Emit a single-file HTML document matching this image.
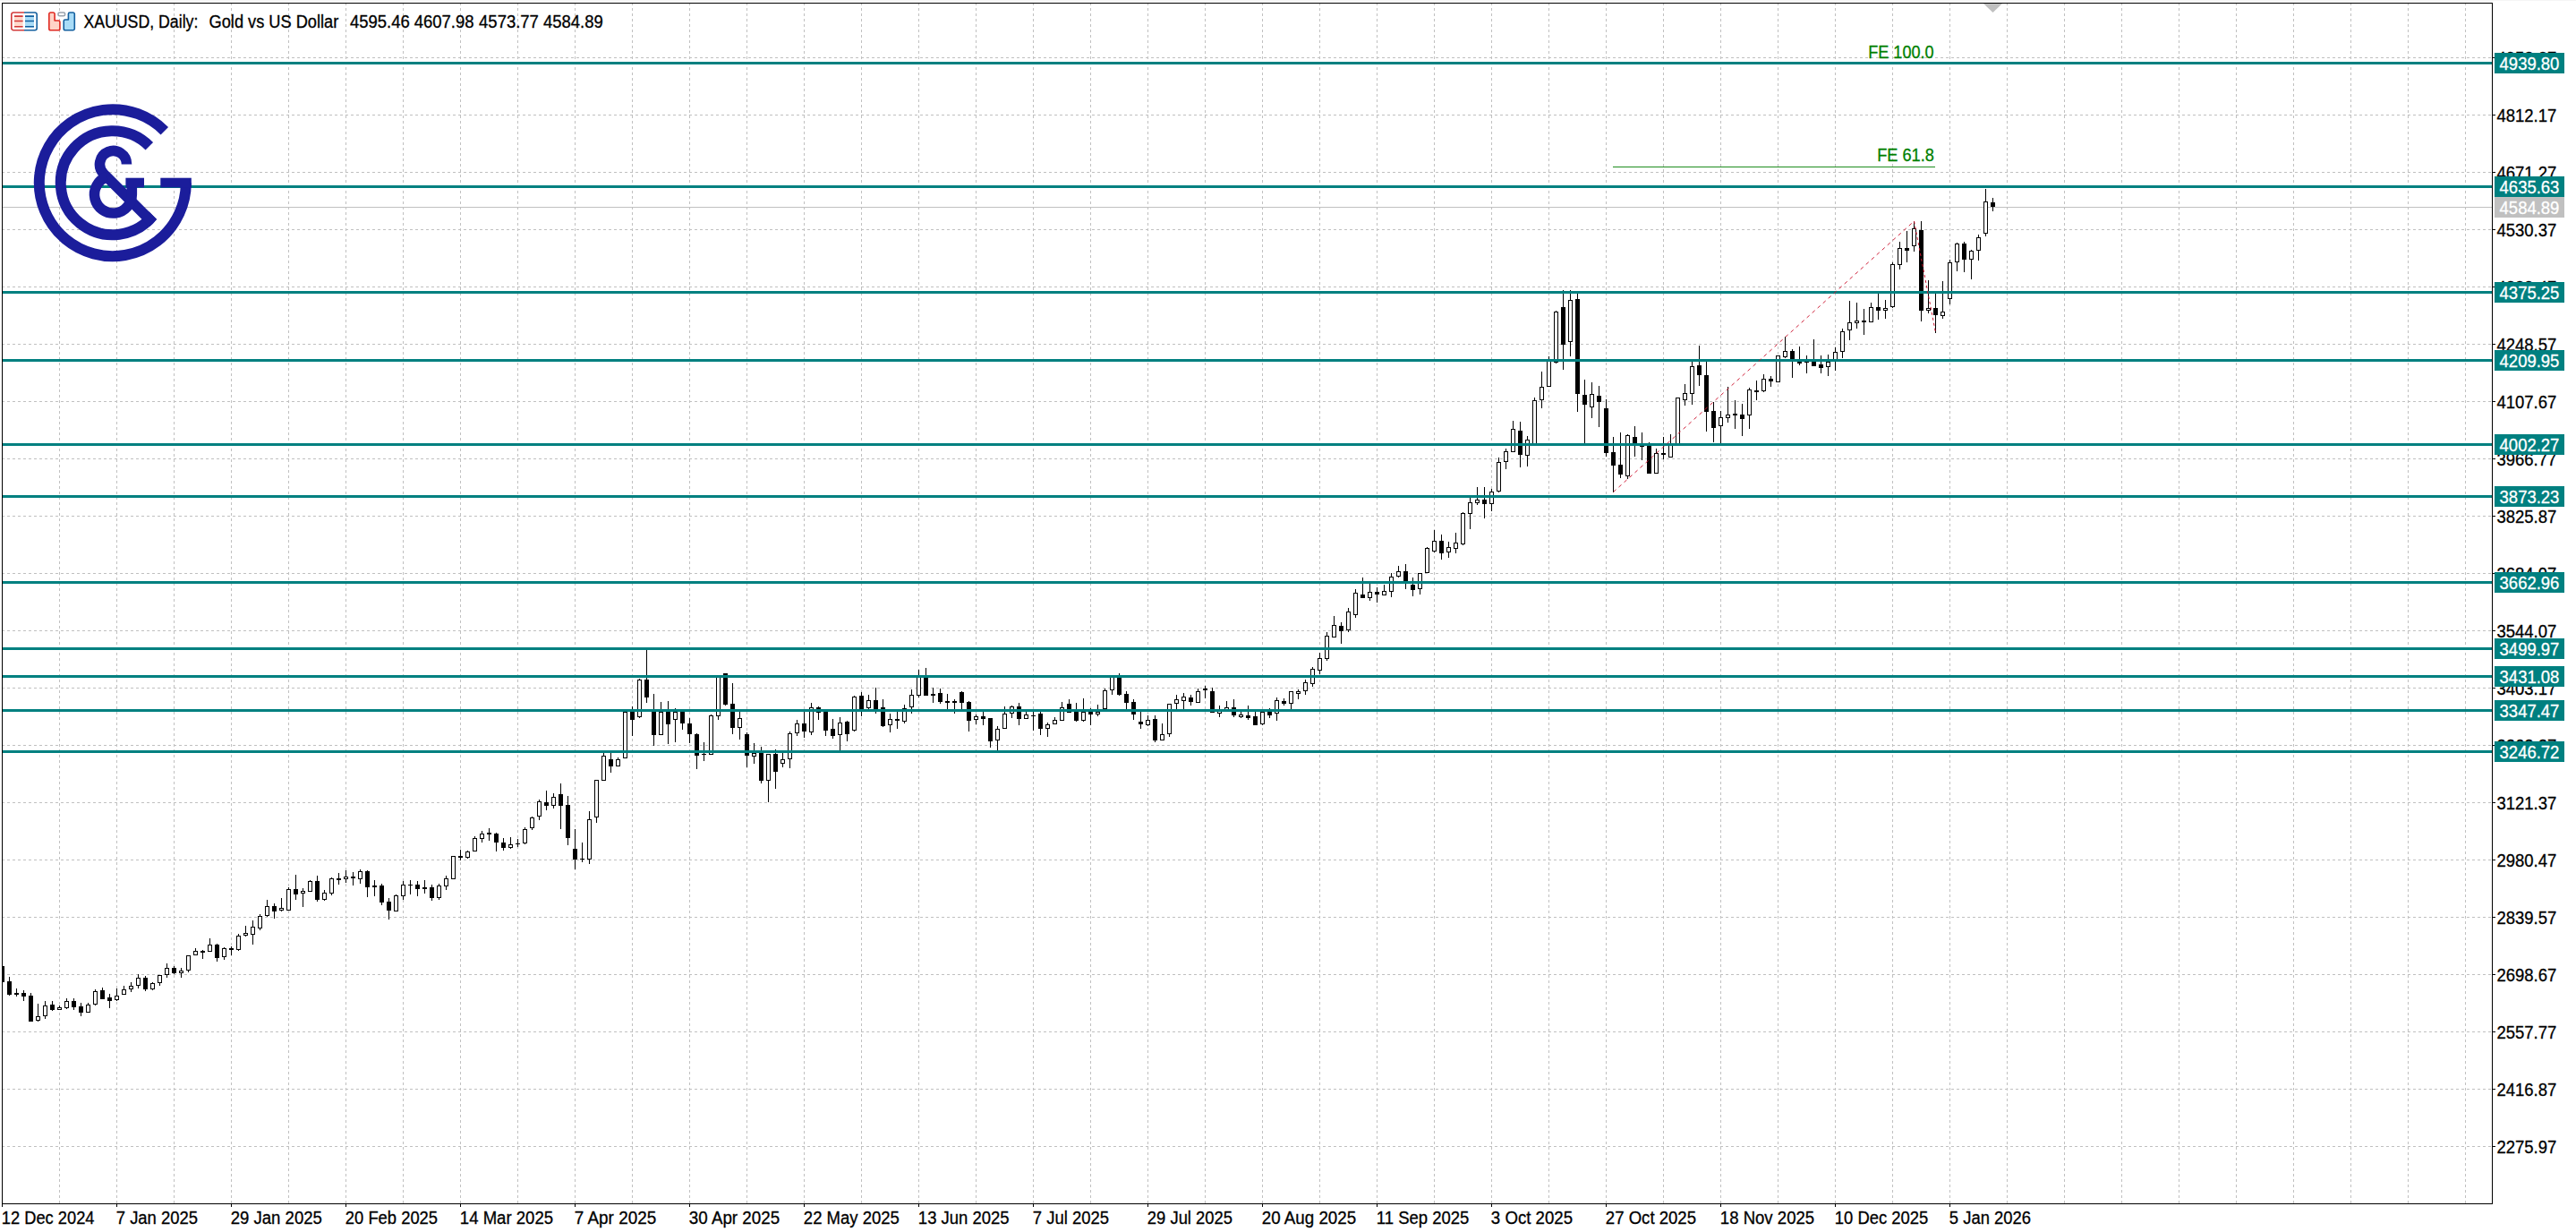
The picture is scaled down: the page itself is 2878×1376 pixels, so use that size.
<!DOCTYPE html>
<html lang="en"><head><meta charset="utf-8"><title>XAUUSD, Daily</title>
<style>html,body{margin:0;padding:0;background:#fff}body{width:2878px;height:1376px;overflow:hidden}svg{display:block}text{font-family:"Liberation Sans",sans-serif;font-size:19.4px;fill:#000;stroke:#000;stroke-width:.3px}.g{stroke:#c0c0c0;stroke-width:1;stroke-dasharray:3 3;shape-rendering:crispEdges;fill:none}.k{shape-rendering:crispEdges}</style></head><body>
<svg width="2878" height="1376" viewBox="0 0 2878 1376">
<rect width="2878" height="1376" fill="#fff"/>
<rect x="0" y="0" width="2878" height="1" fill="#f5f5f5"/>
<g class="g">
<line x1="66.5" y1="3" x2="66.5" y2="1344"/>
<line x1="130.5" y1="3" x2="130.5" y2="1344"/>
<line x1="194.5" y1="3" x2="194.5" y2="1344"/>
<line x1="258.5" y1="3" x2="258.5" y2="1344"/>
<line x1="322.5" y1="3" x2="322.5" y2="1344"/>
<line x1="386.5" y1="3" x2="386.5" y2="1344"/>
<line x1="450.5" y1="3" x2="450.5" y2="1344"/>
<line x1="514.5" y1="3" x2="514.5" y2="1344"/>
<line x1="578.5" y1="3" x2="578.5" y2="1344"/>
<line x1="642.5" y1="3" x2="642.5" y2="1344"/>
<line x1="706.5" y1="3" x2="706.5" y2="1344"/>
<line x1="770.5" y1="3" x2="770.5" y2="1344"/>
<line x1="834.5" y1="3" x2="834.5" y2="1344"/>
<line x1="898.5" y1="3" x2="898.5" y2="1344"/>
<line x1="962.5" y1="3" x2="962.5" y2="1344"/>
<line x1="1026.5" y1="3" x2="1026.5" y2="1344"/>
<line x1="1090.5" y1="3" x2="1090.5" y2="1344"/>
<line x1="1154.5" y1="3" x2="1154.5" y2="1344"/>
<line x1="1218.5" y1="3" x2="1218.5" y2="1344"/>
<line x1="1282.5" y1="3" x2="1282.5" y2="1344"/>
<line x1="1346.5" y1="3" x2="1346.5" y2="1344"/>
<line x1="1410.5" y1="3" x2="1410.5" y2="1344"/>
<line x1="1474.5" y1="3" x2="1474.5" y2="1344"/>
<line x1="1538.5" y1="3" x2="1538.5" y2="1344"/>
<line x1="1602.5" y1="3" x2="1602.5" y2="1344"/>
<line x1="1666.5" y1="3" x2="1666.5" y2="1344"/>
<line x1="1730.5" y1="3" x2="1730.5" y2="1344"/>
<line x1="1794.5" y1="3" x2="1794.5" y2="1344"/>
<line x1="1858.5" y1="3" x2="1858.5" y2="1344"/>
<line x1="1922.5" y1="3" x2="1922.5" y2="1344"/>
<line x1="1986.5" y1="3" x2="1986.5" y2="1344"/>
<line x1="2050.5" y1="3" x2="2050.5" y2="1344"/>
<line x1="2114.5" y1="3" x2="2114.5" y2="1344"/>
<line x1="2178.5" y1="3" x2="2178.5" y2="1344"/>
<line x1="2242.5" y1="3" x2="2242.5" y2="1344"/>
<line x1="2306.5" y1="3" x2="2306.5" y2="1344"/>
<line x1="2370.5" y1="3" x2="2370.5" y2="1344"/>
<line x1="2434.5" y1="3" x2="2434.5" y2="1344"/>
<line x1="2498.5" y1="3" x2="2498.5" y2="1344"/>
<line x1="2562.5" y1="3" x2="2562.5" y2="1344"/>
<line x1="2626.5" y1="3" x2="2626.5" y2="1344"/>
<line x1="2690.5" y1="3" x2="2690.5" y2="1344"/>
<line x1="2754.5" y1="3" x2="2754.5" y2="1344"/>
<line x1="2" y1="64.5" x2="2784" y2="64.5"/>
<line x1="2" y1="128.5" x2="2784" y2="128.5"/>
<line x1="2" y1="192.5" x2="2784" y2="192.5"/>
<line x1="2" y1="256.5" x2="2784" y2="256.5"/>
<line x1="2" y1="320.5" x2="2784" y2="320.5"/>
<line x1="2" y1="384.5" x2="2784" y2="384.5"/>
<line x1="2" y1="448.5" x2="2784" y2="448.5"/>
<line x1="2" y1="512.5" x2="2784" y2="512.5"/>
<line x1="2" y1="576.5" x2="2784" y2="576.5"/>
<line x1="2" y1="640.5" x2="2784" y2="640.5"/>
<line x1="2" y1="704.5" x2="2784" y2="704.5"/>
<line x1="2" y1="768.5" x2="2784" y2="768.5"/>
<line x1="2" y1="832.5" x2="2784" y2="832.5"/>
<line x1="2" y1="896.5" x2="2784" y2="896.5"/>
<line x1="2" y1="960.5" x2="2784" y2="960.5"/>
<line x1="2" y1="1024.5" x2="2784" y2="1024.5"/>
<line x1="2" y1="1088.5" x2="2784" y2="1088.5"/>
<line x1="2" y1="1152.5" x2="2784" y2="1152.5"/>
<line x1="2" y1="1216.5" x2="2784" y2="1216.5"/>
<line x1="2" y1="1280.5" x2="2784" y2="1280.5"/>
</g>
<rect class="k" x="3" y="231" width="2781" height="1" fill="#c0c0c0"/>
<g class="k">
<path fill="#000" d="M2 1079h1v18h-1zM10 1091h1v21h-1zM18 1104h1v9h-1zM26 1106h1v12h-1zM34 1109h1v32h-1zM42 1121h1v20h-1zM50 1118h1v20h-1zM58 1118h1v11h-1zM66 1123h1v5h-1zM74 1115h1v12h-1zM82 1115h1v13h-1zM90 1120h1v15h-1zM98 1120h1v11h-1zM106 1105h1v18h-1zM114 1103h1v13h-1zM122 1110h1v16h-1zM130 1104h1v14h-1zM138 1101h1v10h-1zM146 1097h1v11h-1zM154 1088h1v16h-1zM162 1090h1v17h-1zM170 1097h1v9h-1zM178 1089h1v12h-1zM186 1076h1v16h-1zM194 1079h1v9h-1zM202 1081h1v11h-1zM210 1067h1v19h-1zM218 1059h1v8h-1zM226 1061h1v10h-1zM234 1048h1v15h-1zM242 1054h1v20h-1zM250 1058h1v14h-1zM258 1057h1v10h-1zM266 1043h1v19h-1zM274 1034h1v12h-1zM282 1028h1v27h-1zM290 1021h1v18h-1zM298 1005h1v19h-1zM306 1009h1v17h-1zM314 1003h1v15h-1zM322 991h1v26h-1zM330 977h1v28h-1zM338 992h1v21h-1zM346 983h1v13h-1zM354 978h1v29h-1zM362 994h1v12h-1zM370 980h1v20h-1zM378 975h1v13h-1zM386 972h1v14h-1zM394 974h1v15h-1zM402 971h1v16h-1zM410 972h1v30h-1zM418 983h1v18h-1zM426 987h1v24h-1zM434 1003h1v24h-1zM442 999h1v19h-1zM450 984h1v21h-1zM458 983h1v16h-1zM466 984h1v17h-1zM474 983h1v15h-1zM482 988h1v18h-1zM490 987h1v18h-1zM498 978h1v16h-1zM506 956h1v26h-1zM514 949h1v12h-1zM522 950h1v9h-1zM530 934h1v17h-1zM538 928h1v13h-1zM546 925h1v14h-1zM554 930h1v21h-1zM562 936h1v14h-1zM570 935h1v13h-1zM578 937h1v9h-1zM586 924h1v19h-1zM594 912h1v15h-1zM602 893h1v23h-1zM610 883h1v22h-1zM618 886h1v17h-1zM626 875h1v51h-1zM634 889h1v55h-1zM642 926h1v45h-1zM650 941h1v22h-1zM658 906h1v59h-1zM666 871h1v48h-1zM674 841h1v31h-1zM682 841h1v22h-1zM690 846h1v10h-1zM698 795h1v52h-1zM706 789h1v33h-1zM714 758h1v44h-1zM722 725h1v60h-1zM730 775h1v58h-1zM738 784h1v37h-1zM746 783h1v48h-1zM754 791h1v38h-1zM762 795h1v20h-1zM770 802h1v28h-1zM778 819h1v40h-1zM786 829h1v21h-1zM794 798h1v45h-1zM802 756h1v48h-1zM810 752h1v36h-1zM818 763h1v57h-1zM826 795h1v31h-1zM834 818h1v39h-1zM842 830h1v23h-1zM850 834h1v41h-1zM858 842h1v54h-1zM866 837h1v44h-1zM874 841h1v16h-1zM882 817h1v41h-1zM890 804h1v18h-1zM898 795h1v29h-1zM906 785h1v36h-1zM914 789h1v15h-1zM922 793h1v29h-1zM930 803h1v22h-1zM938 801h1v37h-1zM946 805h1v23h-1zM954 777h1v40h-1zM962 773h1v27h-1zM970 776h1v16h-1zM978 768h1v29h-1zM986 781h1v31h-1zM994 797h1v21h-1zM1002 795h1v19h-1zM1010 787h1v21h-1zM1018 770h1v27h-1zM1026 748h1v31h-1zM1034 746h1v31h-1zM1042 768h1v17h-1zM1050 769h1v17h-1zM1058 775h1v17h-1zM1066 781h1v16h-1zM1074 772h1v20h-1zM1082 783h1v34h-1zM1090 798h1v11h-1zM1098 795h1v15h-1zM1106 802h1v33h-1zM1114 811h1v27h-1zM1122 789h1v25h-1zM1130 788h1v14h-1zM1138 785h1v25h-1zM1146 795h1v8h-1zM1154 794h1v22h-1zM1162 795h1v26h-1zM1170 807h1v16h-1zM1178 801h1v8h-1zM1186 784h1v21h-1zM1194 781h1v15h-1zM1202 785h1v21h-1zM1210 780h1v26h-1zM1218 791h1v19h-1zM1226 787h1v13h-1zM1234 769h1v23h-1zM1242 756h1v20h-1zM1250 752h1v25h-1zM1258 772h1v20h-1zM1266 781h1v23h-1zM1274 795h1v19h-1zM1282 799h1v12h-1zM1290 799h1v30h-1zM1298 808h1v19h-1zM1306 786h1v37h-1zM1314 776h1v16h-1zM1322 774h1v18h-1zM1330 776h1v12h-1zM1338 769h1v16h-1zM1346 766h1v14h-1zM1354 768h1v28h-1zM1362 788h1v13h-1zM1370 783h1v10h-1zM1378 781h1v20h-1zM1386 795h1v7h-1zM1394 788h1v16h-1zM1402 795h1v15h-1zM1410 793h1v17h-1zM1418 791h1v11h-1zM1426 779h1v26h-1zM1434 780h1v8h-1zM1442 772h1v20h-1zM1450 770h1v11h-1zM1458 759h1v17h-1zM1466 745h1v22h-1zM1474 729h1v24h-1zM1482 706h1v32h-1zM1490 688h1v24h-1zM1498 695h1v24h-1zM1506 679h1v27h-1zM1514 658h1v32h-1zM1522 645h1v23h-1zM1530 651h1v20h-1zM1538 656h1v17h-1zM1546 653h1v12h-1zM1554 640h1v27h-1zM1562 632h1v13h-1zM1570 630h1v28h-1zM1578 645h1v21h-1zM1586 640h1v24h-1zM1594 611h1v29h-1zM1602 592h1v25h-1zM1610 597h1v28h-1zM1618 605h1v18h-1zM1626 595h1v23h-1zM1634 572h1v37h-1zM1642 556h1v35h-1zM1650 544h1v20h-1zM1658 544h1v35h-1zM1666 546h1v25h-1zM1674 511h1v39h-1zM1682 501h1v23h-1zM1690 470h1v35h-1zM1698 471h1v51h-1zM1706 487h1v34h-1zM1714 444h1v54h-1zM1722 415h1v41h-1zM1730 398h1v34h-1zM1738 347h1v59h-1zM1746 324h1v89h-1zM1754 324h1v74h-1zM1762 328h1v132h-1zM1770 424h1v71h-1zM1778 427h1v40h-1zM1786 431h1v46h-1zM1794 446h1v64h-1zM1802 488h1v62h-1zM1810 483h1v51h-1zM1818 485h1v50h-1zM1826 476h1v34h-1zM1834 483h1v31h-1zM1842 494h1v35h-1zM1850 501h1v28h-1zM1858 488h1v25h-1zM1866 485h1v26h-1zM1874 444h1v52h-1zM1882 429h1v24h-1zM1890 404h1v48h-1zM1898 386h1v45h-1zM1906 404h1v78h-1zM1914 449h1v45h-1zM1922 459h1v37h-1zM1930 432h1v40h-1zM1938 447h1v32h-1zM1946 451h1v36h-1zM1954 433h1v46h-1zM1962 425h1v22h-1zM1970 418h1v20h-1zM1978 420h1v12h-1zM1986 397h1v30h-1zM1994 376h1v24h-1zM2002 390h1v32h-1zM2010 387h1v21h-1zM2018 397h1v20h-1zM2026 379h1v30h-1zM2034 397h1v20h-1zM2042 396h1v24h-1zM2050 388h1v26h-1zM2058 367h1v33h-1zM2066 336h1v44h-1zM2074 338h1v29h-1zM2082 345h1v29h-1zM2090 338h1v22h-1zM2098 328h1v29h-1zM2106 335h1v21h-1zM2114 293h1v51h-1zM2122 270h1v31h-1zM2130 258h1v35h-1zM2138 247h1v34h-1zM2146 247h1v112h-1zM2154 313h1v37h-1zM2162 328h1v44h-1zM2170 314h1v42h-1zM2178 290h1v50h-1zM2186 271h1v32h-1zM2194 270h1v34h-1zM2202 279h1v33h-1zM2210 262h1v29h-1zM2218 211h1v53h-1zM2226 221h1v15h-1z"/>
<path fill="#000" d="M3 1079h2v18h-2zM8 1096h5v15h-5zM16 1109h5v2h-5zM24 1109h5v4h-5zM32 1112h5v29h-5zM40 1135h5v5h-5zM48 1123h5v12h-5zM56 1122h5v6h-5zM64 1125h5v3h-5zM72 1118h5v8h-5zM80 1118h5v7h-5zM88 1124h5v7h-5zM96 1122h5v9h-5zM104 1107h5v15h-5zM112 1106h5v10h-5zM120 1114h5v4h-5zM128 1112h5v5h-5zM136 1105h5v6h-5zM144 1101h5v4h-5zM152 1092h5v9h-5zM160 1092h5v13h-5zM168 1098h5v7h-5zM176 1089h5v9h-5zM184 1081h5v8h-5zM192 1081h5v6h-5zM200 1084h5v3h-5zM208 1067h5v17h-5zM216 1062h5v5h-5zM224 1062h5v2h-5zM232 1055h5v8h-5zM240 1055h5v15h-5zM248 1059h5v10h-5zM256 1059h5v2h-5zM264 1045h5v16h-5zM272 1042h5v3h-5zM280 1035h5v9h-5zM288 1023h5v14h-5zM296 1012h5v11h-5zM304 1012h5v6h-5zM312 1014h5v3h-5zM320 993h5v24h-5zM328 993h5v6h-5zM336 995h5v3h-5zM344 984h5v12h-5zM352 984h5v21h-5zM360 997h5v8h-5zM368 981h5v17h-5zM376 981h5v2h-5zM384 979h5v3h-5zM392 979h5v2h-5zM400 973h5v9h-5zM408 973h5v18h-5zM416 989h5v2h-5zM424 989h5v19h-5zM432 1007h5v10h-5zM440 1000h5v18h-5zM448 988h5v13h-5zM456 988h5v1h-5zM464 988h5v5h-5zM472 991h5v2h-5zM480 991h5v12h-5zM488 989h5v14h-5zM496 981h5v9h-5zM504 956h5v26h-5zM512 956h5v2h-5zM520 951h5v7h-5zM528 936h5v15h-5zM536 931h5v6h-5zM544 930h5v2h-5zM552 931h5v10h-5zM560 941h5v6h-5zM568 943h5v4h-5zM576 942h5v1h-5zM584 926h5v16h-5zM592 913h5v12h-5zM600 895h5v17h-5zM608 896h5v4h-5zM616 890h5v10h-5zM624 887h5v13h-5zM632 899h5v37h-5zM640 948h5v12h-5zM648 959h5v1h-5zM656 915h5v45h-5zM664 871h5v42h-5zM672 844h5v28h-5zM680 848h5v8h-5zM688 848h5v8h-5zM696 795h5v52h-5zM704 795h5v9h-5zM712 759h5v42h-5zM720 759h5v20h-5zM728 795h5v26h-5zM736 795h5v26h-5zM744 795h5v14h-5zM752 795h5v9h-5zM760 795h5v13h-5zM768 808h5v12h-5zM776 820h5v24h-5zM784 842h5v1h-5zM792 799h5v44h-5zM800 756h5v44h-5zM808 752h5v35h-5zM816 786h5v27h-5zM824 802h5v11h-5zM832 820h5v24h-5zM840 841h5v4h-5zM848 841h5v31h-5zM856 842h5v30h-5zM864 842h5v20h-5zM872 848h5v5h-5zM880 819h5v29h-5zM888 808h5v11h-5zM896 808h5v9h-5zM904 790h5v28h-5zM912 790h5v6h-5zM920 794h5v22h-5zM928 814h5v8h-5zM936 807h5v14h-5zM944 806h5v14h-5zM952 778h5v38h-5zM960 777h5v15h-5zM968 782h5v9h-5zM976 782h5v10h-5zM984 790h5v21h-5zM992 803h5v7h-5zM1000 803h5v2h-5zM1008 791h5v15h-5zM1016 776h5v14h-5zM1024 756h5v21h-5zM1032 757h5v20h-5zM1040 775h5v2h-5zM1048 774h5v10h-5zM1056 783h5v2h-5zM1064 783h5v2h-5zM1072 773h5v12h-5zM1080 784h5v21h-5zM1088 800h5v4h-5zM1096 800h5v3h-5zM1104 802h5v26h-5zM1112 814h5v13h-5zM1120 797h5v17h-5zM1128 789h5v8h-5zM1136 789h5v14h-5zM1144 798h5v5h-5zM1152 799h5v1h-5zM1160 797h5v17h-5zM1168 809h5v5h-5zM1176 804h5v5h-5zM1184 790h5v15h-5zM1192 786h5v10h-5zM1200 795h5v10h-5zM1208 795h5v10h-5zM1216 795h5v3h-5zM1224 795h5v3h-5zM1232 771h5v21h-5zM1240 756h5v15h-5zM1248 757h5v19h-5zM1256 775h5v10h-5zM1264 784h5v14h-5zM1272 806h5v3h-5zM1280 804h5v6h-5zM1288 803h5v24h-5zM1296 820h5v7h-5zM1304 786h5v34h-5zM1312 781h5v5h-5zM1320 778h5v5h-5zM1328 779h5v5h-5zM1336 772h5v13h-5zM1344 769h5v2h-5zM1352 772h5v24h-5zM1360 794h5v3h-5zM1368 790h5v3h-5zM1376 790h5v9h-5zM1384 798h5v3h-5zM1392 799h5v3h-5zM1400 800h5v10h-5zM1408 795h5v14h-5zM1416 795h5v4h-5zM1424 782h5v15h-5zM1432 783h5v3h-5zM1440 772h5v14h-5zM1448 772h5v3h-5zM1456 762h5v10h-5zM1464 747h5v17h-5zM1472 735h5v14h-5zM1480 710h5v26h-5zM1488 698h5v14h-5zM1496 699h5v6h-5zM1504 683h5v21h-5zM1512 662h5v25h-5zM1520 664h5v4h-5zM1528 661h5v7h-5zM1536 661h5v3h-5zM1544 660h5v5h-5zM1552 644h5v17h-5zM1560 638h5v6h-5zM1568 638h5v11h-5zM1576 653h5v6h-5zM1584 640h5v18h-5zM1592 612h5v28h-5zM1600 604h5v12h-5zM1608 604h5v14h-5zM1616 611h5v6h-5zM1624 606h5v7h-5zM1632 573h5v35h-5zM1640 561h5v13h-5zM1648 558h5v4h-5zM1656 558h5v5h-5zM1664 549h5v14h-5zM1672 516h5v33h-5zM1680 504h5v12h-5zM1688 479h5v26h-5zM1696 481h5v27h-5zM1704 491h5v18h-5zM1712 447h5v51h-5zM1720 432h5v15h-5zM1728 402h5v30h-5zM1736 348h5v57h-5zM1744 343h5v42h-5zM1752 335h5v47h-5zM1760 334h5v106h-5zM1768 441h5v11h-5zM1776 440h5v15h-5zM1784 442h5v7h-5zM1792 456h5v50h-5zM1800 505h5v15h-5zM1808 519h5v11h-5zM1816 486h5v46h-5zM1824 488h5v7h-5zM1832 495h5v4h-5zM1840 497h5v32h-5zM1848 506h5v23h-5zM1856 506h5v2h-5zM1864 496h5v15h-5zM1872 444h5v52h-5zM1880 439h5v8h-5zM1888 409h5v31h-5zM1896 408h5v11h-5zM1904 419h5v41h-5zM1912 459h5v19h-5zM1920 466h5v10h-5zM1928 463h5v4h-5zM1936 462h5v2h-5zM1944 463h5v5h-5zM1952 435h5v29h-5zM1960 436h5v2h-5zM1968 423h5v14h-5zM1976 423h5v3h-5zM1984 397h5v30h-5zM1992 392h5v7h-5zM2000 392h5v9h-5zM2008 404h5v2h-5zM2016 404h5v1h-5zM2024 404h5v5h-5zM2032 407h5v4h-5zM2040 404h5v6h-5zM2048 393h5v10h-5zM2056 370h5v23h-5zM2064 360h5v9h-5zM2072 358h5v3h-5zM2080 358h5v2h-5zM2088 343h5v17h-5zM2096 343h5v4h-5zM2104 344h5v3h-5zM2112 295h5v48h-5zM2120 277h5v19h-5zM2128 277h5v3h-5zM2136 255h5v20h-5zM2144 257h5v90h-5zM2152 344h5v3h-5zM2160 344h5v8h-5zM2168 348h5v5h-5zM2176 293h5v41h-5zM2184 272h5v21h-5zM2192 272h5v18h-5zM2200 280h5v10h-5zM2208 265h5v15h-5zM2216 225h5v36h-5zM2224 226h5v5h-5z"/>
<path fill="#fff" d="M41 1136h3v3h-3zM49 1124h3v10h-3zM65 1126h3v1h-3zM73 1119h3v6h-3zM97 1123h3v7h-3zM105 1108h3v13h-3zM129 1113h3v3h-3zM137 1106h3v4h-3zM145 1102h3v2h-3zM153 1093h3v7h-3zM169 1099h3v5h-3zM177 1090h3v7h-3zM185 1082h3v6h-3zM201 1085h3v1h-3zM209 1068h3v15h-3zM217 1063h3v3h-3zM233 1056h3v6h-3zM249 1060h3v8h-3zM265 1046h3v14h-3zM273 1043h3v1h-3zM281 1036h3v7h-3zM289 1024h3v12h-3zM297 1013h3v9h-3zM313 1015h3v1h-3zM321 994h3v22h-3zM337 996h3v1h-3zM345 985h3v10h-3zM361 998h3v6h-3zM369 982h3v15h-3zM385 980h3v1h-3zM401 974h3v7h-3zM441 1001h3v16h-3zM449 989h3v11h-3zM489 990h3v12h-3zM497 982h3v7h-3zM505 957h3v24h-3zM521 952h3v5h-3zM529 937h3v13h-3zM537 932h3v4h-3zM569 944h3v2h-3zM585 927h3v14h-3zM593 914h3v10h-3zM601 896h3v15h-3zM617 891h3v8h-3zM657 916h3v43h-3zM665 872h3v40h-3zM673 845h3v26h-3zM689 849h3v6h-3zM697 796h3v50h-3zM713 760h3v40h-3zM737 796h3v24h-3zM753 796h3v7h-3zM793 800h3v42h-3zM801 757h3v42h-3zM825 803h3v9h-3zM841 842h3v2h-3zM857 843h3v28h-3zM873 849h3v3h-3zM881 820h3v27h-3zM889 809h3v9h-3zM905 791h3v26h-3zM937 808h3v12h-3zM953 779h3v36h-3zM969 783h3v7h-3zM993 804h3v5h-3zM1009 792h3v13h-3zM1017 777h3v12h-3zM1025 757h3v19h-3zM1089 801h3v2h-3zM1113 815h3v11h-3zM1121 798h3v15h-3zM1129 790h3v6h-3zM1145 799h3v3h-3zM1169 810h3v3h-3zM1177 805h3v3h-3zM1185 791h3v13h-3zM1209 796h3v8h-3zM1225 796h3v1h-3zM1233 772h3v19h-3zM1241 757h3v13h-3zM1281 805h3v4h-3zM1297 821h3v5h-3zM1305 787h3v32h-3zM1313 782h3v3h-3zM1321 779h3v3h-3zM1337 773h3v11h-3zM1361 795h3v1h-3zM1369 791h3v1h-3zM1385 799h3v1h-3zM1409 796h3v12h-3zM1425 783h3v13h-3zM1441 773h3v12h-3zM1449 773h3v1h-3zM1457 763h3v8h-3zM1465 748h3v15h-3zM1473 736h3v12h-3zM1481 711h3v24h-3zM1489 699h3v12h-3zM1505 684h3v19h-3zM1513 663h3v23h-3zM1529 662h3v5h-3zM1545 661h3v3h-3zM1553 645h3v15h-3zM1561 639h3v4h-3zM1585 641h3v16h-3zM1593 613h3v26h-3zM1601 605h3v10h-3zM1617 612h3v4h-3zM1625 607h3v5h-3zM1633 574h3v33h-3zM1641 562h3v11h-3zM1649 559h3v2h-3zM1665 550h3v12h-3zM1673 517h3v31h-3zM1681 505h3v10h-3zM1689 480h3v24h-3zM1705 492h3v16h-3zM1713 448h3v49h-3zM1721 433h3v13h-3zM1729 403h3v28h-3zM1737 349h3v55h-3zM1753 336h3v45h-3zM1777 441h3v13h-3zM1817 487h3v44h-3zM1833 496h3v2h-3zM1849 507h3v21h-3zM1865 497h3v13h-3zM1873 445h3v50h-3zM1881 440h3v6h-3zM1889 410h3v29h-3zM1921 467h3v8h-3zM1929 464h3v2h-3zM1953 436h3v27h-3zM1969 424h3v12h-3zM1985 398h3v28h-3zM1993 393h3v5h-3zM2041 405h3v4h-3zM2049 394h3v8h-3zM2057 371h3v21h-3zM2065 361h3v7h-3zM2073 359h3v1h-3zM2089 344h3v15h-3zM2105 345h3v1h-3zM2113 296h3v46h-3zM2121 278h3v17h-3zM2137 256h3v18h-3zM2153 345h3v1h-3zM2169 349h3v3h-3zM2177 294h3v39h-3zM2185 273h3v19h-3zM2201 281h3v8h-3zM2209 266h3v13h-3zM2217 226h3v34h-3z"/>
</g>
<g class="k" fill="#008080">
<rect x="3" y="69" width="2781" height="3"/>
<rect x="3" y="207" width="2781" height="3"/>
<rect x="3" y="325" width="2781" height="3"/>
<rect x="3" y="401" width="2781" height="3"/>
<rect x="3" y="495" width="2781" height="3"/>
<rect x="3" y="553" width="2781" height="3"/>
<rect x="3" y="649" width="2781" height="3"/>
<rect x="3" y="723" width="2781" height="3"/>
<rect x="3" y="754" width="2781" height="3"/>
<rect x="3" y="792" width="2781" height="3"/>
<rect x="3" y="838" width="2781" height="3"/>
</g>
<rect class="k" x="1802" y="186" width="360" height="1" fill="#1e8c1e"/>
<line x1="1802.5" y1="549.5" x2="2138.5" y2="247" stroke="#cc1630" stroke-width="0.95" stroke-dasharray="4.04 4.04" fill="none"/>
<line x1="2138.5" y1="247" x2="2162.5" y2="371.5" stroke="#cc1630" stroke-width="1" stroke-dasharray="3.05 3.05" fill="none"/>
<defs><clipPath id="c1"><path d="M0 0H300V204.2H134.4L330.2 400H0z"/></clipPath><clipPath id="c2"><circle cx="125.8" cy="204.2" r="64"/></clipPath></defs>
<g fill="none" stroke="#1b1d9b" stroke-width="12">
<path d="M183.8 146.2A82 82 0 1 0 207.8 204.2"/>
<path clip-path="url(#c1)" d="M166.8 163.2A58 58 0 1 0 172.7 238.3"/>
</g>
<g fill="none" stroke="#1b1d9b" stroke-width="11.6" clip-path="url(#c2)">
<path d="M141.5 183.5A15 15 0 1 0 115.9 194.1L178 256.2"/>
<path d="M119.3 197.5A20.9 20.9 0 1 0 147.3 217.2L147.3 204"/>
</g>
<g fill="#1b1d9b">
<rect x="179.3" y="198.7" width="34.5" height="10.7"/>
<rect x="140.4" y="198.7" width="20.6" height="10.7"/>
</g>
<path d="M2216 4h21l-10.5 10z" fill="#c0c0c0"/>
<g class="k" fill="#000">
<rect x="2" y="3" width="1" height="1342"/>
<rect x="2" y="3" width="2783" height="1"/>
<rect x="2784" y="3" width="1" height="1342"/>
<rect x="2" y="1344" width="2783" height="1"/>
<rect x="2" y="1344" width="1" height="4"/>
<rect x="130" y="1344" width="1" height="4"/>
<rect x="258" y="1344" width="1" height="4"/>
<rect x="386" y="1344" width="1" height="4"/>
<rect x="514" y="1344" width="1" height="4"/>
<rect x="642" y="1344" width="1" height="4"/>
<rect x="770" y="1344" width="1" height="4"/>
<rect x="898" y="1344" width="1" height="4"/>
<rect x="1026" y="1344" width="1" height="4"/>
<rect x="1154" y="1344" width="1" height="4"/>
<rect x="1282" y="1344" width="1" height="4"/>
<rect x="1410" y="1344" width="1" height="4"/>
<rect x="1538" y="1344" width="1" height="4"/>
<rect x="1666" y="1344" width="1" height="4"/>
<rect x="1794" y="1344" width="1" height="4"/>
<rect x="1922" y="1344" width="1" height="4"/>
<rect x="2050" y="1344" width="1" height="4"/>
<rect x="2178" y="1344" width="1" height="4"/>
<rect x="2784" y="64" width="4" height="1"/>
<rect x="2784" y="128" width="4" height="1"/>
<rect x="2784" y="192" width="4" height="1"/>
<rect x="2784" y="256" width="4" height="1"/>
<rect x="2784" y="320" width="4" height="1"/>
<rect x="2784" y="384" width="4" height="1"/>
<rect x="2784" y="448" width="4" height="1"/>
<rect x="2784" y="512" width="4" height="1"/>
<rect x="2784" y="576" width="4" height="1"/>
<rect x="2784" y="640" width="4" height="1"/>
<rect x="2784" y="704" width="4" height="1"/>
<rect x="2784" y="768" width="4" height="1"/>
<rect x="2784" y="832" width="4" height="1"/>
<rect x="2784" y="896" width="4" height="1"/>
<rect x="2784" y="960" width="4" height="1"/>
<rect x="2784" y="1024" width="4" height="1"/>
<rect x="2784" y="1088" width="4" height="1"/>
<rect x="2784" y="1152" width="4" height="1"/>
<rect x="2784" y="1216" width="4" height="1"/>
<rect x="2784" y="1280" width="4" height="1"/>
</g>
<g>
<text x="2789.4" y="72" textLength="66.8" lengthAdjust="spacingAndGlyphs">4953.07</text>
<text x="2789.4" y="136" textLength="66.8" lengthAdjust="spacingAndGlyphs">4812.17</text>
<text x="2789.4" y="200" textLength="66.8" lengthAdjust="spacingAndGlyphs">4671.27</text>
<text x="2789.4" y="264" textLength="66.8" lengthAdjust="spacingAndGlyphs">4530.37</text>
<text x="2789.4" y="328" textLength="66.8" lengthAdjust="spacingAndGlyphs">4389.47</text>
<text x="2789.4" y="392" textLength="66.8" lengthAdjust="spacingAndGlyphs">4248.57</text>
<text x="2789.4" y="456" textLength="66.8" lengthAdjust="spacingAndGlyphs">4107.67</text>
<text x="2789.4" y="520" textLength="66.8" lengthAdjust="spacingAndGlyphs">3966.77</text>
<text x="2789.4" y="584" textLength="66.8" lengthAdjust="spacingAndGlyphs">3825.87</text>
<text x="2789.4" y="648" textLength="66.8" lengthAdjust="spacingAndGlyphs">3684.97</text>
<text x="2789.4" y="712" textLength="66.8" lengthAdjust="spacingAndGlyphs">3544.07</text>
<text x="2789.4" y="776" textLength="66.8" lengthAdjust="spacingAndGlyphs">3403.17</text>
<text x="2789.4" y="840" textLength="66.8" lengthAdjust="spacingAndGlyphs">3262.27</text>
<text x="2789.4" y="904" textLength="66.8" lengthAdjust="spacingAndGlyphs">3121.37</text>
<text x="2789.4" y="968" textLength="66.8" lengthAdjust="spacingAndGlyphs">2980.47</text>
<text x="2789.4" y="1032" textLength="66.8" lengthAdjust="spacingAndGlyphs">2839.57</text>
<text x="2789.4" y="1096" textLength="66.8" lengthAdjust="spacingAndGlyphs">2698.67</text>
<text x="2789.4" y="1160" textLength="66.8" lengthAdjust="spacingAndGlyphs">2557.77</text>
<text x="2789.4" y="1224" textLength="66.8" lengthAdjust="spacingAndGlyphs">2416.87</text>
<text x="2789.4" y="1288" textLength="66.8" lengthAdjust="spacingAndGlyphs">2275.97</text>
</g>
<rect class="k" x="2787" y="59" width="78" height="23" fill="#008080"/>
<text x="2792.6" y="78.1" textLength="66.8" lengthAdjust="spacingAndGlyphs" style="fill:#fff;stroke:#fff">4939.80</text>
<rect class="k" x="2787" y="197" width="78" height="23" fill="#008080"/>
<text x="2792.6" y="216.1" textLength="66.8" lengthAdjust="spacingAndGlyphs" style="fill:#fff;stroke:#fff">4635.63</text>
<rect class="k" x="2787" y="315" width="78" height="23" fill="#008080"/>
<text x="2792.6" y="334.1" textLength="66.8" lengthAdjust="spacingAndGlyphs" style="fill:#fff;stroke:#fff">4375.25</text>
<rect class="k" x="2787" y="391" width="78" height="23" fill="#008080"/>
<text x="2792.6" y="410.1" textLength="66.8" lengthAdjust="spacingAndGlyphs" style="fill:#fff;stroke:#fff">4209.95</text>
<rect class="k" x="2787" y="485" width="78" height="23" fill="#008080"/>
<text x="2792.6" y="504.1" textLength="66.8" lengthAdjust="spacingAndGlyphs" style="fill:#fff;stroke:#fff">4002.27</text>
<rect class="k" x="2787" y="543" width="78" height="23" fill="#008080"/>
<text x="2792.6" y="562.1" textLength="66.8" lengthAdjust="spacingAndGlyphs" style="fill:#fff;stroke:#fff">3873.23</text>
<rect class="k" x="2787" y="639" width="78" height="23" fill="#008080"/>
<text x="2792.6" y="658.1" textLength="66.8" lengthAdjust="spacingAndGlyphs" style="fill:#fff;stroke:#fff">3662.96</text>
<rect class="k" x="2787" y="713" width="78" height="23" fill="#008080"/>
<text x="2792.6" y="732.1" textLength="66.8" lengthAdjust="spacingAndGlyphs" style="fill:#fff;stroke:#fff">3499.97</text>
<rect class="k" x="2787" y="744" width="78" height="23" fill="#008080"/>
<text x="2792.6" y="763.1" textLength="66.8" lengthAdjust="spacingAndGlyphs" style="fill:#fff;stroke:#fff">3431.08</text>
<rect class="k" x="2787" y="782" width="78" height="23" fill="#008080"/>
<text x="2792.6" y="801.1" textLength="66.8" lengthAdjust="spacingAndGlyphs" style="fill:#fff;stroke:#fff">3347.47</text>
<rect class="k" x="2787" y="828" width="78" height="23" fill="#008080"/>
<text x="2792.6" y="847.1" textLength="66.8" lengthAdjust="spacingAndGlyphs" style="fill:#fff;stroke:#fff">3246.72</text>
<rect class="k" x="2787" y="220" width="78" height="23" fill="#c0c0c0"/>
<text x="2792.6" y="239.1" textLength="66.8" lengthAdjust="spacingAndGlyphs" style="fill:#fff;stroke:#fff">4584.89</text>
<text x="1.86" y="1366.6" textLength="103.61" lengthAdjust="spacingAndGlyphs">12 Dec 2024</text>
<text x="129.75" y="1366.6" textLength="91.27" lengthAdjust="spacingAndGlyphs">7 Jan 2025</text>
<text x="257.64" y="1366.6" textLength="102.28" lengthAdjust="spacingAndGlyphs">29 Jan 2025</text>
<text x="385.85" y="1366.6" textLength="103.21" lengthAdjust="spacingAndGlyphs">20 Feb 2025</text>
<text x="513.84" y="1366.6" textLength="104.23" lengthAdjust="spacingAndGlyphs">14 Mar 2025</text>
<text x="641.83" y="1366.6" textLength="91.34" lengthAdjust="spacingAndGlyphs">7 Apr 2025</text>
<text x="769.83" y="1366.6" textLength="101.31" lengthAdjust="spacingAndGlyphs">30 Apr 2025</text>
<text x="897.85" y="1366.6" textLength="107.04" lengthAdjust="spacingAndGlyphs">22 May 2025</text>
<text x="1025.85" y="1366.6" textLength="101.77" lengthAdjust="spacingAndGlyphs">13 Jun 2025</text>
<text x="1153.85" y="1366.6" textLength="85.19" lengthAdjust="spacingAndGlyphs">7 Jul 2025</text>
<text x="1281.85" y="1366.6" textLength="95.19" lengthAdjust="spacingAndGlyphs">29 Jul 2025</text>
<text x="1409.83" y="1366.6" textLength="105.3" lengthAdjust="spacingAndGlyphs">20 Aug 2025</text>
<text x="1537.85" y="1366.6" textLength="103.55" lengthAdjust="spacingAndGlyphs">11 Sep 2025</text>
<text x="1665.84" y="1366.6" textLength="91.22" lengthAdjust="spacingAndGlyphs">3 Oct 2025</text>
<text x="1793.84" y="1366.6" textLength="101.19" lengthAdjust="spacingAndGlyphs">27 Oct 2025</text>
<text x="1921.84" y="1366.6" textLength="105.28" lengthAdjust="spacingAndGlyphs">18 Nov 2025</text>
<text x="2049.85" y="1366.6" textLength="104.5" lengthAdjust="spacingAndGlyphs">10 Dec 2025</text>
<text x="2177.85" y="1366.6" textLength="91.18" lengthAdjust="spacingAndGlyphs">5 Jan 2026</text>
<text x="2087.27" y="65.4" textLength="73.29" lengthAdjust="spacingAndGlyphs" style="fill:#008000;stroke:#008000">FE 100.0</text>
<text x="2097.26" y="180.3" textLength="63.58" lengthAdjust="spacingAndGlyphs" style="fill:#008000;stroke:#008000">FE 61.8</text>
<text x="93.39" y="30.7" textLength="128.0" lengthAdjust="spacingAndGlyphs">XAUUSD, Daily:</text>
<text x="233.56" y="30.7" textLength="144.73" lengthAdjust="spacingAndGlyphs">Gold vs US Dollar</text>
<text x="390.9" y="30.7" textLength="66.8" lengthAdjust="spacingAndGlyphs">4595.46</text>
<text x="462.7" y="30.7" textLength="66.8" lengthAdjust="spacingAndGlyphs">4607.98</text>
<text x="535.1" y="30.7" textLength="66.8" lengthAdjust="spacingAndGlyphs">4573.77</text>
<text x="606.9" y="30.7" textLength="66.8" lengthAdjust="spacingAndGlyphs">4584.89</text>
<g stroke-width="1.6" stroke-linejoin="round">
<path d="M27 14H15a2.2 2.2 0 0 0-2.2 2.2V31.5a2.2 2.2 0 0 0 2.2 2.2H27" fill="none" stroke="#d23a3a"/>
<path d="M27 14H39a2.2 2.2 0 0 1 2.2 2.2V31.5a2.2 2.2 0 0 1-2.2 2.2H27" fill="none" stroke="#14609f"/>
<rect x="16" y="17.3" width="9.6" height="13.3" fill="#ffd9cc" stroke="none"/>
<rect x="28" y="17.3" width="10" height="13.3" fill="#a9dcf7" stroke="none"/>
<path d="M16 18.1h9.6M16 23.5h9.6M16 29.8h9.6" stroke="#d23a3a" fill="none"/>
<path d="M28 18.1h10M28 23.5h10M28 29.8h10" stroke="#14609f" fill="none"/>
<path d="M56.5 14h3a1.6 1.6 0 0 1 1.6 1.6V23h4.2a1.6 1.6 0 0 1 1.6 1.6V32a1.8 1.8 0 0 1-1.8 1.8H56.6a1.8 1.8 0 0 1-1.8-1.8V15.7A1.7 1.7 0 0 1 56.5 14z" fill="#ffd3c6" stroke="#e02a22"/>
<path d="M78 14h3.6a1.7 1.7 0 0 1 1.7 1.7V32a1.8 1.8 0 0 1-1.8 1.8H73a1.8 1.8 0 0 1-1.8-1.8V23.6A1.6 1.6 0 0 1 72.8 22h3.6V15.6A1.6 1.6 0 0 1 78 14z" fill="#a9dcf7" stroke="#14609f"/>
<rect x="65" y="14" width="7.6" height="3.8" rx="1.6" fill="#fff" stroke="#9aa3ad"/>
</g>
</svg></body></html>
